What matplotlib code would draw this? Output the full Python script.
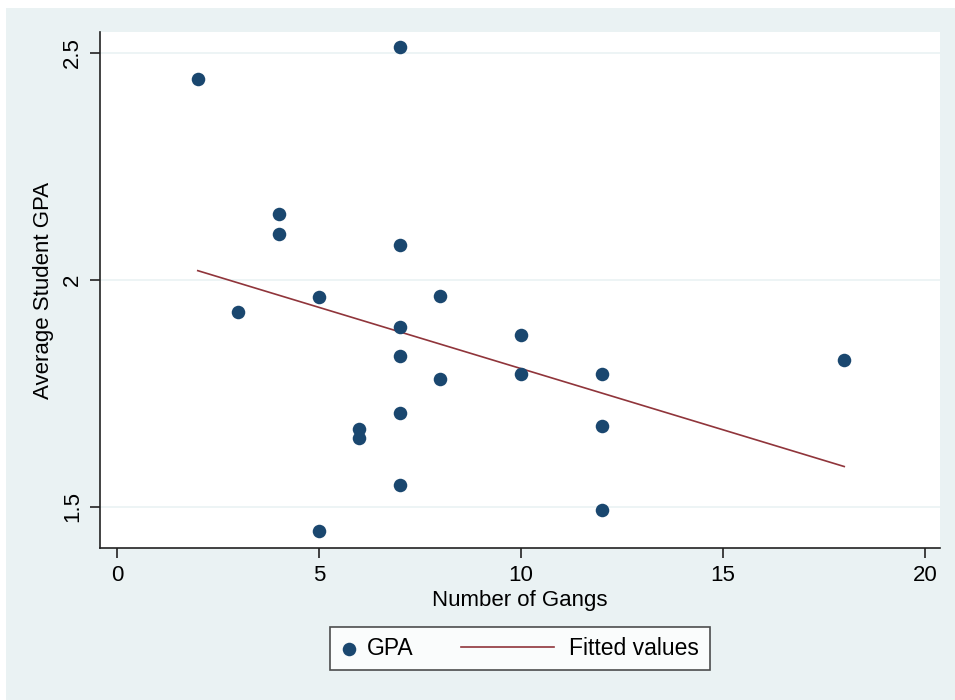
import numpy as np
import matplotlib.pyplot as plt
from matplotlib.patches import Rectangle
from matplotlib.lines import Line2D
from matplotlib.legend_handler import HandlerLine2D

plt.rcParams['font.family'] = ['Liberation Sans', 'DejaVu Sans']

# Gangs per school vs average GPA
gangs = [2, 7, 4, 4, 7, 3, 5, 8, 7, 10, 7, 10, 12, 18, 8, 6, 6, 7, 12, 7, 12, 5]
gpa = [2.443, 2.513, 2.145, 2.101, 2.077, 1.930, 1.963, 1.965, 1.896, 1.879,
       1.833, 1.793, 1.793, 1.824, 1.782, 1.672, 1.652, 1.707, 1.678, 1.548,
       1.493, 1.447]

x_ticks = [0, 5, 10, 15, 20]
y_ticks = [1.5, 2, 2.5]
y_tick_labels = ['1.5', '2', '2.5']

bg = '#EAF2F3'
navy = '#1A476F'
maroon = '#90353B'
ink = '#222222'


class WideLine(HandlerLine2D):
    # legend line that reaches back into the column gap (Stata style key)
    def create_artists(self, legend, orig_handle, xdescent, ydescent,
                       width, height, fontsize, trans):
        y = height / 2 - ydescent
        line = Line2D([-xdescent - 3.6 * fontsize, -xdescent + 0.65 * width], [y, y])
        self.update_prop(line, orig_handle, legend)
        line.set_transform(trans)
        return [line]


fig = plt.figure(figsize=(9.55, 7), dpi=100)
fig.patch.set_facecolor('white')
fig.patches.append(Rectangle((6 / 955, 0), 1, 1 - 8 / 700, transform=fig.transFigure,
                             facecolor=bg, edgecolor='none', zorder=-10))

ax = fig.add_axes([100 / 955, 1 - 548 / 700, 840 / 955, 516 / 700])
ax.set_facecolor('white')

# OLS fit over the observed range
b, a = np.polyfit(gangs, gpa, 1)
xf = np.array([min(gangs), max(gangs)])

ax.scatter(gangs, gpa, s=95, color=navy, zorder=3, label='GPA', linewidths=0)
fit_line, = ax.plot(xf, a + b * xf, color=maroon, lw=1.2, zorder=2,
                    label='Fitted values')

ax.set_xlim(-0.42, 20.37)
ax.set_ylim(1.4097, 2.546)
ax.set_xticks(x_ticks)
ax.set_yticks(y_ticks)
ax.set_yticklabels(y_tick_labels, rotation=90, va='center')
ax.tick_params(direction='out', length=7, width=1.2, color=ink,
               labelsize=16, pad=5)
ax.grid(axis='y', color=bg, lw=1.2)
ax.set_axisbelow(True)

for s in ['top', 'right']:
    ax.spines[s].set_visible(False)
for s in ['left', 'bottom']:
    ax.spines[s].set_color(ink)
    ax.spines[s].set_linewidth(1.2)

ax.set_xlabel('Number of Gangs', fontsize=16, labelpad=3)
ax.set_ylabel('Average Student GPA', fontsize=16, labelpad=6)

leg = ax.legend(loc='center', bbox_to_anchor=(0.5, -0.195, 0, 0), ncol=2,
                fontsize=16.5, frameon=True, fancybox=False, edgecolor=ink,
                handlelength=0.7, columnspacing=5.7, handletextpad=0.42,
                borderpad=0.45, handler_map={fit_line: WideLine()})
leg.get_frame().set_linewidth(1.2)

fig.savefig('out.png', dpi=100, facecolor=fig.get_facecolor())
